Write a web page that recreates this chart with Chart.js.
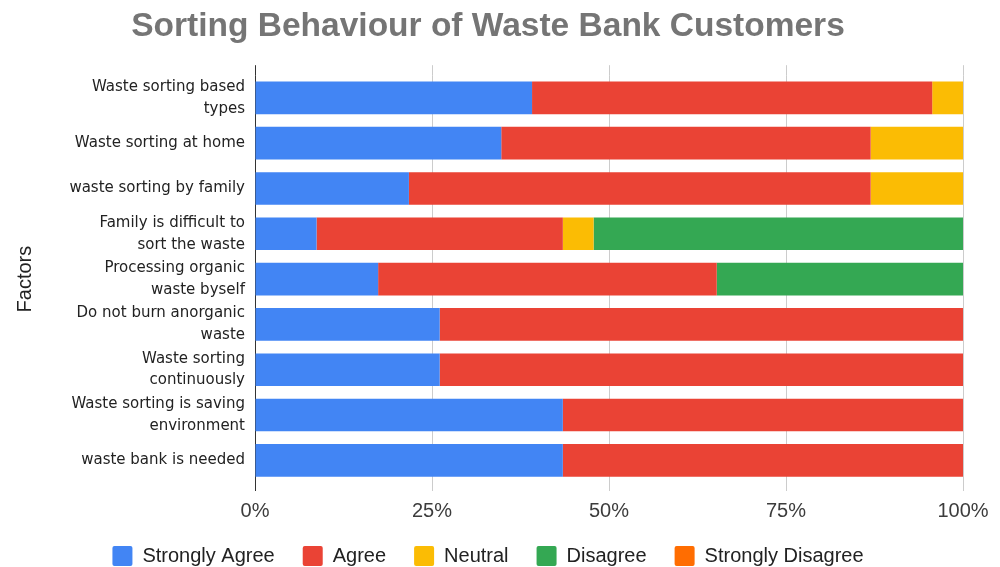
<!DOCTYPE html>
<html>
<head>
<meta charset="utf-8">
<title>Sorting Behaviour of Waste Bank Customers</title>
<script src="https://cdn.jsdelivr.net/npm/chart.js@4"></script>
<style>
  html, body { margin: 0; padding: 0; background: #fff; }
  #wrap { width: 1000px; height: 567px; }
</style>
</head>
<body>
<div id="wrap"><canvas id="sorting-chart"></canvas></div>
<script>
// survey answers per factor (number of respondents)
const factors = [
  ["Waste sorting based", "types"],
  "Waste sorting at home",
  "waste sorting by family",
  ["Family is difficult to", "sort the waste"],
  ["Processing organic", "waste byself"],
  ["Do not burn anorganic", "waste"],
  ["Waste sorting", "continuously"],
  ["Waste sorting is saving", "environment"],
  "waste bank is needed"
];
const stronglyAgree    = [9, 8, 5, 2, 4, 6, 6, 10, 10];
const agree            = [13, 12, 15, 8, 11, 17, 17, 13, 13];
const neutral          = [1, 3, 3, 1, 0, 0, 0, 0, 0];
const disagree         = [0, 0, 0, 12, 8, 0, 0, 0, 0];
const stronglyDisagree = [0, 0, 0, 0, 0, 0, 0, 0, 0];
const xTicks = [0, 25, 50, 75, 100];

const answers = [
  { label: "Strongly Agree", values: stronglyAgree, color: "#4285F4" },
  { label: "Agree", values: agree, color: "#EA4335" },
  { label: "Neutral", values: neutral, color: "#FBBC04" },
  { label: "Disagree", values: disagree, color: "#34A853" },
  { label: "Strongly Disagree", values: stronglyDisagree, color: "#FF6D01" }
];

// totals per row, used to turn counts into shares
const totals = factors.map((f, i) => answers.reduce((s, a) => s + a.values[i], 0));

const gridColor = ctx => (ctx.tick && ctx.tick.value === 0) ? "#333333" : "#cccccc";

new Chart("sorting-chart", {
  type: "bar",
  data: {
    labels: factors,
    datasets: answers.map(a => ({
      label: a.label,
      data: a.values.map((v, i) => v / totals[i] * 100),
      backgroundColor: a.color,
      borderWidth: 0
    }))
  },
  options: {
    indexAxis: "y",
    responsive: true,
    maintainAspectRatio: false,
    animation: false,
    layout: { padding: { left: 13, right: 37, top: 0, bottom: -9 } },
    scales: {
      x: {
        stacked: true,
        min: 0,
        max: 100,
        afterBuildTicks: scale => { scale.ticks = xTicks.map(v => ({ value: v })); },
        afterFit: scale => { scale.height = 35; },
        border: { display: false },
        grid: { color: gridColor, tickColor: gridColor, tickLength: 8, lineWidth: 1 },
        ticks: {
          padding: 8,
          color: "#3c3c3c",
          font: { family: "Liberation Sans, Arial, sans-serif", size: 20 },
          callback: v => v + "%"
        }
      },
      x2: {
        position: "top",
        type: "linear",
        min: 0,
        max: 100,
        afterBuildTicks: scale => { scale.ticks = xTicks.map(v => ({ value: v })); },
        border: { display: false },
        grid: { drawOnChartArea: false, color: gridColor, tickColor: gridColor, tickLength: 10 },
        ticks: { display: false }
      },
      y: {
        stacked: true,
        afterFit: scale => { scale.width = 242; },
        border: { display: false },
        grid: { display: false, drawTicks: false },
        ticks: {
          autoSkip: false,
          padding: 10,
          color: "#222222",
          font: { family: "DejaVu Sans, Verdana, sans-serif", size: 15, lineHeight: 1.45 }
        },
        title: {
          display: true,
          text: "Factors",
          color: "#222222",
          padding: { top: 0, bottom: 0 },
          font: { family: "Liberation Sans, Arial, sans-serif", size: 20 }
        }
      }
    },
    plugins: {
      title: {
        display: true,
        text: "Sorting Behaviour of Waste Bank Customers",
        color: "#757575",
        padding: { top: 7, bottom: 18 },
        font: { family: "Liberation Sans, Arial, sans-serif", size: 33.5, weight: "bold" }
      },
      legend: {
        position: "bottom",
        labels: {
          boxWidth: 20,
          boxHeight: 20,
          padding: 28,
          useBorderRadius: true,
          borderRadius: 2,
          color: "#222222",
          font: { family: "Liberation Sans, Arial, sans-serif", size: 20 }
        }
      },
      tooltip: { enabled: false }
    }
  }
});
</script>
</body>
</html>
